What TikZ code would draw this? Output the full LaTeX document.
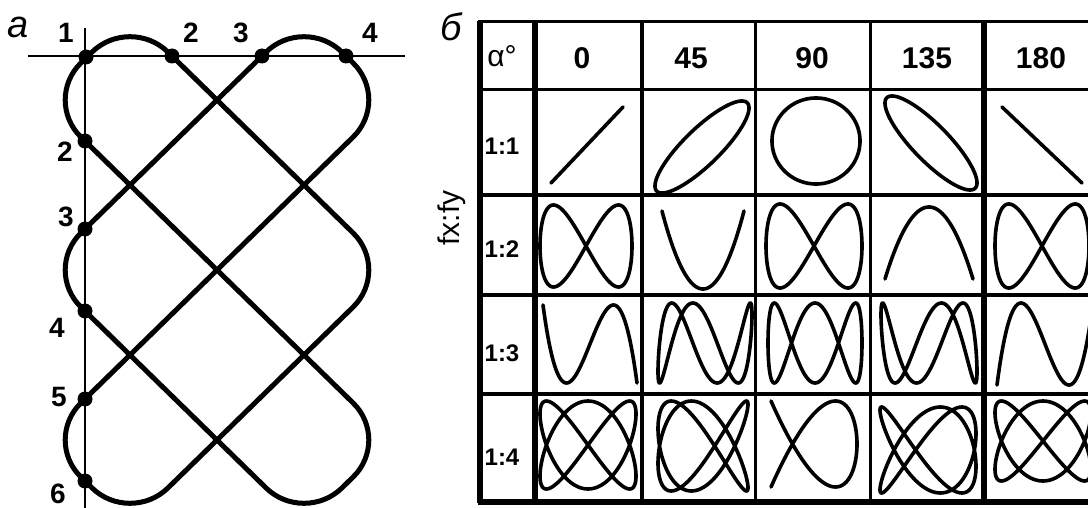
\documentclass[tikz,border=0pt]{standalone}
\usepackage{fontspec}
\setmainfont{Liberation Sans}

\begin{document}
\begin{tikzpicture}[x=0.5pt, y=-0.5pt,
    curve/.style={line width=2.5pt, rounded corners=26.5pt, line cap=round},
    axisline/.style={line width=1.3pt},
    dot/.style={circle, fill, inner sep=0pt, minimum size=7.5pt},
    num/.style={font=\fontsize{14}{16}\selectfont\bfseries, inner sep=0pt},
    part/.style={font=\fontsize{19}{21}\selectfont\itshape, inner sep=0pt},
    thinrule/.style={line width=1.5pt},
    midrule/.style={line width=2.4pt},
    thickrule/.style={line width=3.2pt},
    head/.style={font=\fontsize{15}{17}\selectfont\bfseries, inner sep=0pt},
    ratio/.style={font=\fontsize{12}{14}\selectfont\bfseries, inner sep=0pt},
    fig/.style={line width=1.8pt, line join=round, line cap=round, domain=0:360, samples=241}]
    \useasboundingbox (0,0) rectangle (1088,508);

    % part a
    \node[part] (pa) at (18,27) {а};
    \coordinate (hl) at (28,56);
    \coordinate (hr) at (405,56);
    \coordinate (vt) at (85,28);
    \coordinate (vb) at (85,510);
    \draw[axisline] (hl) -- (hr);
    \draw[axisline] (vt) -- (vb);
    \draw[curve] (217,270) -- (391,440) -- (304,525) -- (43,270) -- (304,15) -- (391,100)
        -- (43,440) -- (130,525) -- (391,270) -- (130,15) -- (43,100) -- (217,270);
    \node[dot] (h1) at (86,57) {};
    \node[dot] (h2) at (172,56) {};
    \node[dot] (h3) at (262,56) {};
    \node[dot] (h4) at (346,56) {};
    \node[dot] (v2) at (85,141) {};
    \node[dot] (v3) at (85,229) {};
    \node[dot] (v4) at (85,311) {};
    \node[dot] (v5) at (85,399) {};
    \node[dot] (v6) at (85,481) {};
    \node[num] (th1) at (66,33) {1};
    \node[num] (th2) at (191,33) {2};
    \node[num] (th3) at (241,33) {3};
    \node[num] (th4) at (370,33) {4};
    \node[num] (tv2) at (65,152) {2};
    \node[num] (tv3) at (66,217) {3};
    \node[num] (tv4) at (57,328) {4};
    \node[num] (tv5) at (59,397) {5};
    \node[num] (tv6) at (58,494) {6};

    % part b
    \node[part] (pb) at (451,27) {б};
    \node[font=\fontsize{15}{17}\selectfont, rotate=90, inner sep=0pt] (fxfy) at (452,218) {fx:fy};
    \draw[thinrule] (478,22) -- (1100,22);
    \draw[thinrule] (478,90) -- (1100,90);
    \draw[midrule] (478,195) -- (1100,195);
    \draw[midrule] (478,295) -- (1100,295);
    \draw[midrule] (478,394) -- (1100,394);
    \draw[thickrule] (478,502) -- (1100,502);
    \draw[thickrule] (480,21) -- (480,503);
    \draw[thickrule] (535,21) -- (535,503);
    \draw[midrule] (642,21) -- (642,503);
    \draw[thinrule] (755,21) -- (755,503);
    \draw[thinrule] (870,21) -- (870,503);
    \draw[thickrule] (984,21) -- (984,503);

    \node[font=\fontsize{15}{17}\selectfont, inner sep=0pt] (ha) at (502,56) {α°};
    \node[head] (h0) at (582,58) {0};
    \node[head] (h45) at (691,58) {45};
    \node[head] (h90) at (812,58) {90};
    \node[head] (h135) at (927,58) {135};
    \node[head] (h180) at (1041,58) {180};
    \node[ratio] (r11) at (502,146) {1:1};
    \node[ratio] (r12) at (502,249) {1:2};
    \node[ratio] (r13) at (502,353) {1:3};
    \node[ratio] (r14) at (502,457) {1:4};

    % 1:1
    \draw[fig] plot ({587+36*sin(\x)}, {145-38*sin(\x)});
    \draw[fig] plot ({702+47*sin(\x+32)}, {147-46*sin(\x)});
    \draw[fig] plot ({816+44*sin(\x+90)}, {141-43*sin(\x)});
    \draw[fig] plot ({931+46*sin(\x+148)}, {143-47*sin(\x)});
    \draw[fig] plot ({1042+40*sin(\x+180)}, {145-38*sin(\x)});
    % 1:2
    \draw[fig] plot ({586+46*sin(\x)}, {246-41*sin(2*\x)});
    \draw[fig] plot ({703+41*sin(\x+45)}, {250-39*sin(2*\x)});
    \draw[fig] plot ({814+48*sin(\x+90)}, {246-42*sin(2*\x)});
    \draw[fig] plot ({929+44*sin(\x+135)}, {243-36*sin(2*\x)});
    \draw[fig] plot ({1042+47*sin(\x+180)}, {246-42*sin(2*\x)});
    % 1:3
    \draw[fig] plot ({590+47*sin(\x)}, {344-39*sin(3*\x)});
    \draw[fig] plot ({705+47*sin(\x+45)}, {343-40*sin(3*\x)});
    \draw[fig] plot ({815+47*sin(\x+90)}, {343-40*sin(3*\x)});
    \draw[fig] plot ({929+48*sin(\x+135)}, {343-40*sin(3*\x)});
    \draw[fig] plot ({1045+48*sin(\x+180)}, {344-41*sin(3*\x)});
    % 1:4
    \draw[fig] plot ({588+48*sin(2*\x)}, {445-44*sin(3*\x)});
    \draw[fig] plot ({703+45*sin(2*\x+45)}, {446-45*sin(3*\x)});
    \draw[fig] plot ({814+43*sin(2*\x+90)}, {444-43*sin(3*\x)});
    \draw[fig] plot ({928+48*sin(2*\x+225)}, {450-43*sin(3*\x)});
    \draw[fig] plot ({1043+48*sin(2*\x+180)}, {441-40*sin(3*\x)});
\end{tikzpicture}
\end{document}
